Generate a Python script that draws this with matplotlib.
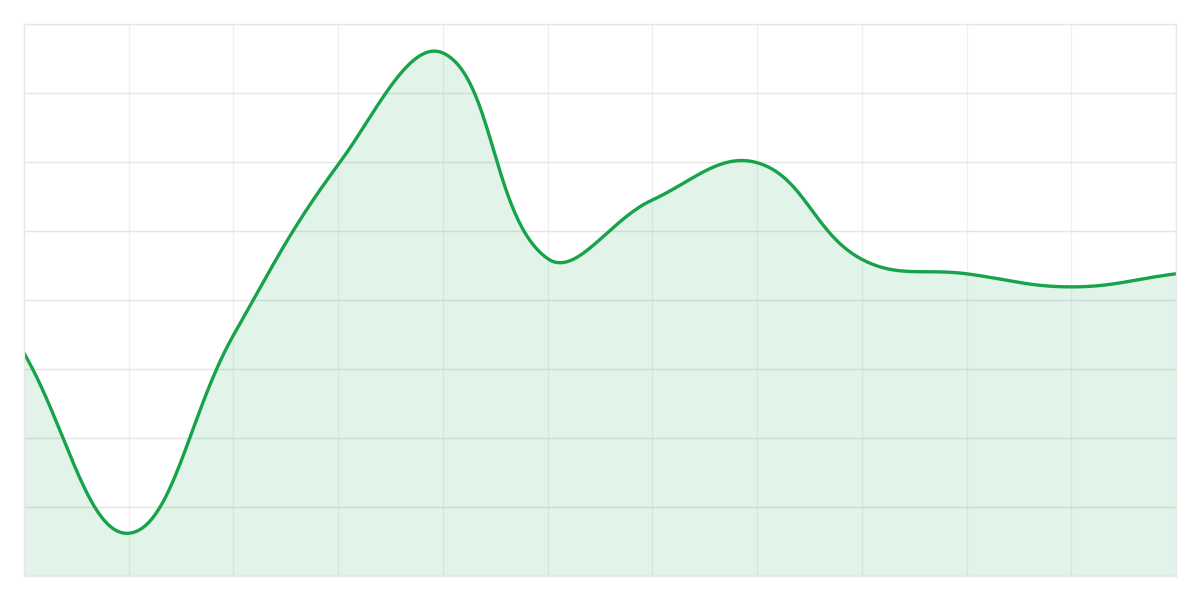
import numpy as np
import matplotlib.pyplot as plt

# valores (12 puntos, eje y de 0 a 8)
labels = list(range(12))
values = [3.23, 0.62, 3.49, 5.96, 7.58, 4.60, 5.45, 5.99, 4.59, 4.38, 4.19, 4.38]

line_color = '#16a34a'
fill_color = '#16a34a'

fig = plt.figure(figsize=(12, 6), dpi=100)
ax = fig.add_axes([24 / 1200, 24 / 600, 1152 / 1200, 552 / 600])
ax.set_xlim(0, 11)
ax.set_ylim(0, 8)

# curva suave tipo chart.js (tension 0.4), en escala de pixeles
sx, sy = 1152 / 11, 552 / 8
px = np.array(labels, dtype=float) * sx
py = np.array(values) * sy
n = len(px)
cp1 = np.zeros((n, 2))
cp2 = np.zeros((n, 2))
t = 0.4
for i in range(n):
    prev = np.array([px[max(i - 1, 0)], py[max(i - 1, 0)]])
    cur = np.array([px[i], py[i]])
    nxt = np.array([px[min(i + 1, n - 1)], py[min(i + 1, n - 1)]])
    d01 = np.hypot(*(cur - prev))
    d12 = np.hypot(*(nxt - cur))
    tot = d01 + d12
    s01 = d01 / tot if tot else 0
    s12 = d12 / tot if tot else 0
    cp1[i] = cur - t * s01 * (nxt - prev)
    cp2[i] = cur + t * s12 * (nxt - prev)

xs, ys = [], []
u = np.linspace(0, 1, 60)[:, None]
for i in range(n - 1):
    p0 = np.array([px[i], py[i]])
    p3 = np.array([px[i + 1], py[i + 1]])
    b = ((1 - u) ** 3) * p0 + 3 * ((1 - u) ** 2) * u * cp2[i] + 3 * (1 - u) * u ** 2 * cp1[i + 1] + u ** 3 * p3
    xs.extend(b[:, 0] / sx)
    ys.extend(b[:, 1] / sy)

ax.fill_between(xs, ys, 0, color=fill_color, alpha=0.12, linewidth=0)
ax.plot(xs, ys, color=line_color, linewidth=2.4, solid_capstyle='round')

ax.set_xticks(range(12))
ax.set_yticks(range(9))
ax.grid(True, axis='y', color='#e5e5e5', linewidth=1)
ax.grid(True, axis='x', color='#f0f0f0', linewidth=1)
ax.tick_params(length=0, labelbottom=False, labelleft=False)
for s in ax.spines.values():
    s.set_color('#e8e8e8')
    s.set_linewidth(1)
ax.set_axisbelow(True)

plt.savefig('out.png', dpi=100, facecolor='white')
